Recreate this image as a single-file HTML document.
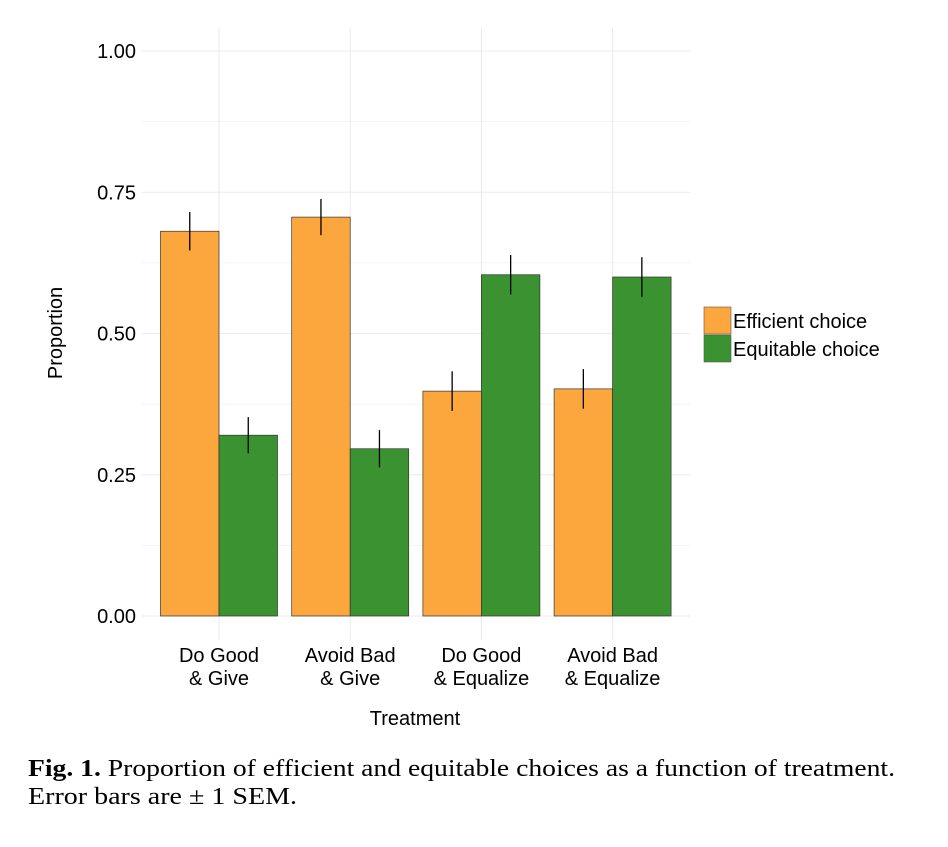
<!DOCTYPE html>
<html><head><meta charset="utf-8"><style>
body{margin:0;background:#fff;width:948px;height:842px;overflow:hidden}
svg text{font-family:"Liberation Sans",sans-serif}
</style></head><body>
<svg width="948" height="842">
<g id="grid"></g>
<g id="bars"></g>
<g id="axes"></g>
<text x="62" y="333" transform="rotate(-90 62 333)" text-anchor="middle" font-size="20">Proportion</text>
<text x="415" y="725" text-anchor="middle" font-size="20">Treatment</text>
<g>
<rect x="704" y="307" width="27" height="27" fill="#FBA73E" stroke="#555" stroke-width="0.6"/>
<rect x="704" y="335" width="27" height="27" fill="#3A9231" stroke="#555" stroke-width="0.6"/>
<text x="733" y="328" font-size="20">Efficient choice</text>
<text x="733" y="356" font-size="20">Equitable choice</text>
</g>
<text x="28" y="776" font-size="24" textLength="867" lengthAdjust="spacingAndGlyphs" style="font-family:'Liberation Serif',serif"><tspan font-weight="bold">Fig. 1.</tspan> Proportion of efficient and equitable choices as a function of treatment.</text>
<text x="28" y="804" font-size="24" textLength="269" lengthAdjust="spacingAndGlyphs" style="font-family:'Liberation Serif',serif">Error bars are ± 1 SEM.</text>
</svg>
<script>
const categories=[["Do Good","& Give"],["Avoid Bad","& Give"],["Do Good","& Equalize"],["Avoid Bad","& Equalize"]];
const efficient=[0.681,0.706,0.398,0.402];
const efficientSem=[0.034,0.032,0.035,0.035];
const equitable=[0.320,0.296,0.604,0.600];
const equitableSem=[0.032,0.033,0.035,0.035];
const yTicks=[0,0.25,0.5,0.75,1.0];
const yTickLabels=["0.00","0.25","0.50","0.75","1.00"];
const NS="http://www.w3.org/2000/svg";
const y=v=>616-v*565;
const x=i=>219+i*131.2;
const bw=58.5;
function mk(tag,attrs,parent){const e=document.createElementNS(NS,tag);for(const k in attrs)e.setAttribute(k,attrs[k]);document.getElementById(parent).appendChild(e);return e;}
for(let t=0;t<=1.0001;t+=0.125){
 const l=mk('line',{x1:142,x2:690,y1:y(t),y2:y(t),stroke:'#ebebeb','stroke-width':Math.abs(t*4-Math.round(t*4))<1e-6?1.1:0.6},'grid');
 
 
}
categories.forEach((c,i)=>{
 const l=mk('line',{x1:x(i),x2:x(i),y1:28,y2:640,stroke:'#ebebeb','stroke-width':1.1},'grid');
 
 
});
yTicks.forEach((t,i)=>{
 const e=mk('text',{x:136,y:y(t)+7,'text-anchor':'end','font-size':20},'axes');
 e.textContent=yTickLabels[i];
 
 
});
categories.forEach((c,i)=>{
 [[efficient,efficientSem,'#FBA73E',-1],[equitable,equitableSem,'#3A9231',0]].forEach(([vals,sem,col,off])=>{
  const r=mk('rect',{x:x(i)+off*bw,y:y(vals[i]),width:bw,height:y(0)-y(vals[i]),fill:col,stroke:'#333','stroke-width':0.7},'bars');
  
  
  const cx=x(i)+off*bw+bw/2;
  const eb=mk('line',{x1:cx,x2:cx,y1:y(vals[i]+sem[i]),y2:y(vals[i]-sem[i]),stroke:'#000','stroke-width':1.3},'bars');
  
  
 });
 c.forEach((s,j)=>{
  const e=mk('text',{x:x(i),y:662+j*23,'text-anchor':'middle','font-size':20},'axes');
  e.textContent=s;
  
  
 });
});
</script>
</body></html>
